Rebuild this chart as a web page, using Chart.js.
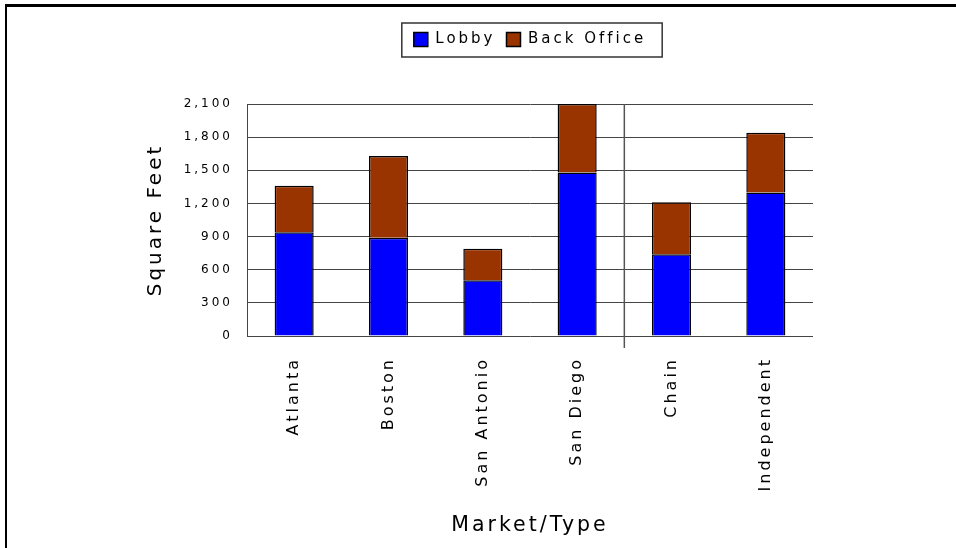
<!DOCTYPE html>
<html>
<head>
<meta charset="utf-8">
<script src="https://cdn.jsdelivr.net/npm/chart.js@4/dist/chart.umd.min.js"></script>
<style>
  html, body { margin: 0; padding: 0; background: #fff; }
  #wrap { position: relative; width: 956px; height: 548px; }
  #frame { position: absolute; left: 5px; top: 4px; right: 0; bottom: 0;
           border-top: 3px solid #000; border-left: 2px solid #000; pointer-events: none; }
</style>
</head>
<body>
<div id="wrap">
  <canvas id="space" width="956" height="548"></canvas>
  <div id="frame"></div>
</div>
<script>
let markets = ['Atlanta', 'Boston', 'San Antonio', 'San Diego', 'Chain', 'Independent']
let lobby = [940, 890, 505, 1480, 740, 1300]
let backOffice = [420, 740, 285, 620, 470, 540]
let yTicks = [0, 300, 600, 900, 1200, 1500, 1800, 2100]

let blue = '#0000ff'
let brown = '#993300'
let gridColor = '#444444'

Chart.defaults.font.family = '"DejaVu Sans", sans-serif'
Chart.defaults.color = '#000'

// wide tracking on every label drawn on the canvas
let spacing = {
    id: 'spacing',
    beforeUpdate(chart) { chart.ctx.letterSpacing = '3px' },
    beforeDraw(chart) { chart.ctx.letterSpacing = '3px' }
}

// taller legend row so the plot starts lower
let legendGap = {
    id: 'legendGap',
    beforeInit(chart) {
        let fit = chart.legend.fit
        chart.legend.fit = function() {
            fit.bind(chart.legend)()
            this.height = 83
        }
    }
}

// box round the legend and the divider between cities and types
let extras = {
    id: 'extras',
    afterDraw(chart) {
        let ctx = chart.ctx
        let boxes = chart.legend.legendHitBoxes
        if (boxes && boxes.length) {
            let first = boxes[0], last = boxes[boxes.length - 1]
            let left = first.left - 12
            let right = last.left + last.width + 16
            let top = first.top - 9
            let bottom = first.top + first.height + 10
            ctx.save()
            ctx.strokeStyle = '#333'
            ctx.lineWidth = 1.5
            ctx.strokeRect(left, top, right - left, bottom - top)
            ctx.restore()
        }
        let x = chart.scales.x
        let area = chart.chartArea
        let split = (x.getPixelForValue(3) + x.getPixelForValue(4)) / 2
        ctx.save()
        ctx.strokeStyle = '#555'
        ctx.lineWidth = 1.5
        ctx.beginPath()
        ctx.moveTo(split, area.top)
        ctx.lineTo(split, area.bottom + 12)
        ctx.stroke()
        ctx.restore()
    }
}

function chartLoader(){
    let kaart = document.getElementById('space').getContext('2d')
    let space = new Chart(kaart, {
        type: 'bar',
        data: {
            labels: markets,
            datasets: [{
                label: 'Lobby',
                data: lobby,
                backgroundColor: blue,
                borderColor: '#000',
                borderWidth: 1.5
            }, {
                label: 'Back Office',
                data: backOffice,
                backgroundColor: brown,
                borderColor: '#000',
                borderWidth: 1.5
            }]
        },
        options: {
            responsive: false,
            animation: false,
            devicePixelRatio: 1,
            datasets: { bar: { barPercentage: 0.414, categoryPercentage: 1 } },
            layout: { padding: { left: 130, right: 143, top: 21, bottom: 0 } },
            plugins: {
                tooltip: { enabled: false },
                legend: {
                    position: 'top',
                    fullSize: false,
                    labels: {
                        boxWidth: 14,
                        boxHeight: 14,
                        padding: 11,
                        color: '#000',
                        font: { size: 15 }
                    }
                }
            },
            scales: {
                x: {
                    stacked: true,
                    grid: { display: false, drawTicks: false },
                    border: { display: false },
                    ticks: {
                        minRotation: 90,
                        maxRotation: 90,
                        padding: 21,
                        color: '#000',
                        font: { size: 16 }
                    },
                    title: {
                        display: true,
                        text: 'Market/Type',
                        color: '#000',
                        font: { size: 20.5 },
                        padding: { top: 0, bottom: 10 }
                    },
                    afterFit(scale) { scale.height = 212 }
                },
                y: {
                    stacked: true,
                    min: yTicks[0],
                    max: yTicks[yTicks.length - 1],
                    afterBuildTicks(scale) { scale.ticks = yTicks.map(v => ({ value: v })) },
                    grid: { color: gridColor, lineWidth: 1, drawTicks: false },
                    border: { display: true, color: gridColor, width: 1 },
                    ticks: {
                        padding: 14,
                        color: '#000',
                        font: { size: 12 },
                        callback: v => v.toLocaleString('en-US')
                    },
                    title: {
                        display: true,
                        text: 'Square Feet',
                        color: '#000',
                        font: { size: 20 },
                        padding: { top: 14, bottom: 0 }
                    },
                    afterFit(scale) { scale.width = 117 }
                }
            }
        },
        plugins: [spacing, legendGap, extras]
    })
}
window.onload = function(){
    chartLoader()
}
</script>
</body>
</html>
